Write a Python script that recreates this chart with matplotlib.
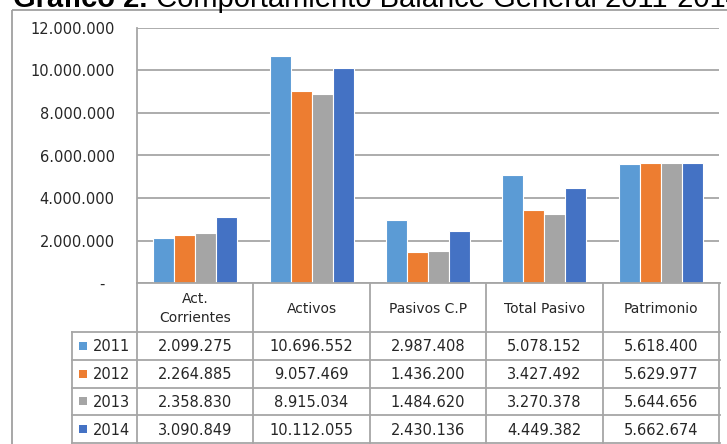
import matplotlib
matplotlib.use("Agg")
import matplotlib.pyplot as plt
from matplotlib.patches import Rectangle

# data
categories = ["Act.\nCorrientes", "Activos", "Pasivos C.P", "Total Pasivo", "Patrimonio"]
years = ["2011", "2012", "2013", "2014"]
v2011 = [2099275, 10696552, 2987408, 5078152, 5618400]
v2012 = [2264885, 9057469, 1436200, 3427492, 5629977]
v2013 = [2358830, 8915034, 1484620, 3270378, 5644656]
v2014 = [3090849, 10112055, 2430136, 4449382, 5662674]
series = [v2011, v2012, v2013, v2014]
colors = ["#5B9BD5", "#ED7D31", "#A5A5A5", "#4472C4"]
yticks = [0, 2000000, 4000000, 6000000, 8000000, 10000000, 12000000]

W, H = 727, 444
grid_c = "#A6A6A6"
text_c = "#262626"


def fmt(v):
    if v == 0:
        return "-  "
    return "{:,}".format(v).replace(",", ".")


fig = plt.figure(figsize=(W / 100, H / 100), dpi=100)

# layout in pixels
pl, pr, pt, pb = 137, 719, 28, 283
leg_l = 72
hdr_b = 332
row_h = (443 - hdr_b) / 4

# bars
ax = fig.add_axes([pl / W, 1 - pb / H, (pr - pl) / W, (pb - pt) / H])
bw = 0.18
for i, (vals, c) in enumerate(zip(series, colors)):
    xs = [k + (i - 1.5) * bw for k in range(len(categories))]
    ax.bar(xs, vals, width=bw, color=c, edgecolor="white", linewidth=0.8, zorder=3)
ax.set_xlim(-0.5, len(categories) - 0.5)
ax.set_ylim(0, 12000000)
ax.set_yticks(yticks)
ax.set_yticklabels([fmt(v) for v in yticks], fontsize=10.5, color=text_c,
                   family="DejaVu Sans")
ax.tick_params(axis="y", length=0, pad=16)
ax.set_xticks([])
ax.grid(axis="y", color=grid_c, linewidth=1.3, zorder=0)
for s in ["top", "right", "bottom"]:
    ax.spines[s].set_visible(False)
ax.spines["left"].set_color(grid_c)
ax.spines["left"].set_linewidth(1.3)

# table + frame in pixel coordinates
tax = fig.add_axes([0, 0, 1, 1])
tax.set_xlim(0, W)
tax.set_ylim(H, 0)
tax.axis("off")

tax.add_patch(Rectangle((12, 10), W + 20, H + 20, fill=False,
                        edgecolor="#A0A0A0", linewidth=1.3))

cw = (pr - pl) / len(categories)
col_edges = [pl + k * cw for k in range(len(categories) + 1)]
tbl_r = col_edges[-1] + 1
row_edges = [hdr_b + r * row_h for r in range(len(years) + 1)]

tax.plot([pl, tbl_r], [pb, pb], color=grid_c, lw=1.3)
for x in col_edges:
    tax.plot([x, x], [pb, row_edges[-1]], color=grid_c, lw=1.3)
tax.plot([leg_l, leg_l], [hdr_b, row_edges[-1]], color=grid_c, lw=1.3)
for y in row_edges:
    tax.plot([leg_l, tbl_r], [y, y], color=grid_c, lw=1.3)

for k, cat in enumerate(categories):
    tax.text(col_edges[k] + cw / 2, (pb + hdr_b) / 2 + 1, cat, ha="center",
             va="center", fontsize=10, color=text_c, linespacing=1.4)

for r, (yr, vals, c) in enumerate(zip(years, series, colors)):
    yc = row_edges[r] + row_h / 2
    tax.add_patch(Rectangle((79, yc - 4), 8, 8, facecolor=c, edgecolor="none"))
    tax.text(93, yc + 1, yr, ha="left", va="center", fontsize=10.5, color=text_c)
    for k, v in enumerate(vals):
        tax.text(col_edges[k] + cw / 2, yc + 1, fmt(v), ha="center",
                 va="center", fontsize=10.5, color=text_c)

# title, cut at the top and right like the reference
t1 = tax.text(13, 7, "Gráfico 2.", fontsize=21, fontweight="bold",
              family="Liberation Sans", va="baseline", ha="left", color="black")
fig.canvas.draw()
bb = t1.get_window_extent()
x1 = bb.x1
tax.text(x1, 7, " Comportamiento Balance General 2011-2014", fontsize=21,
         family="Liberation Sans", va="baseline", ha="left", color="black")

fig.savefig("out.png", dpi=100)
